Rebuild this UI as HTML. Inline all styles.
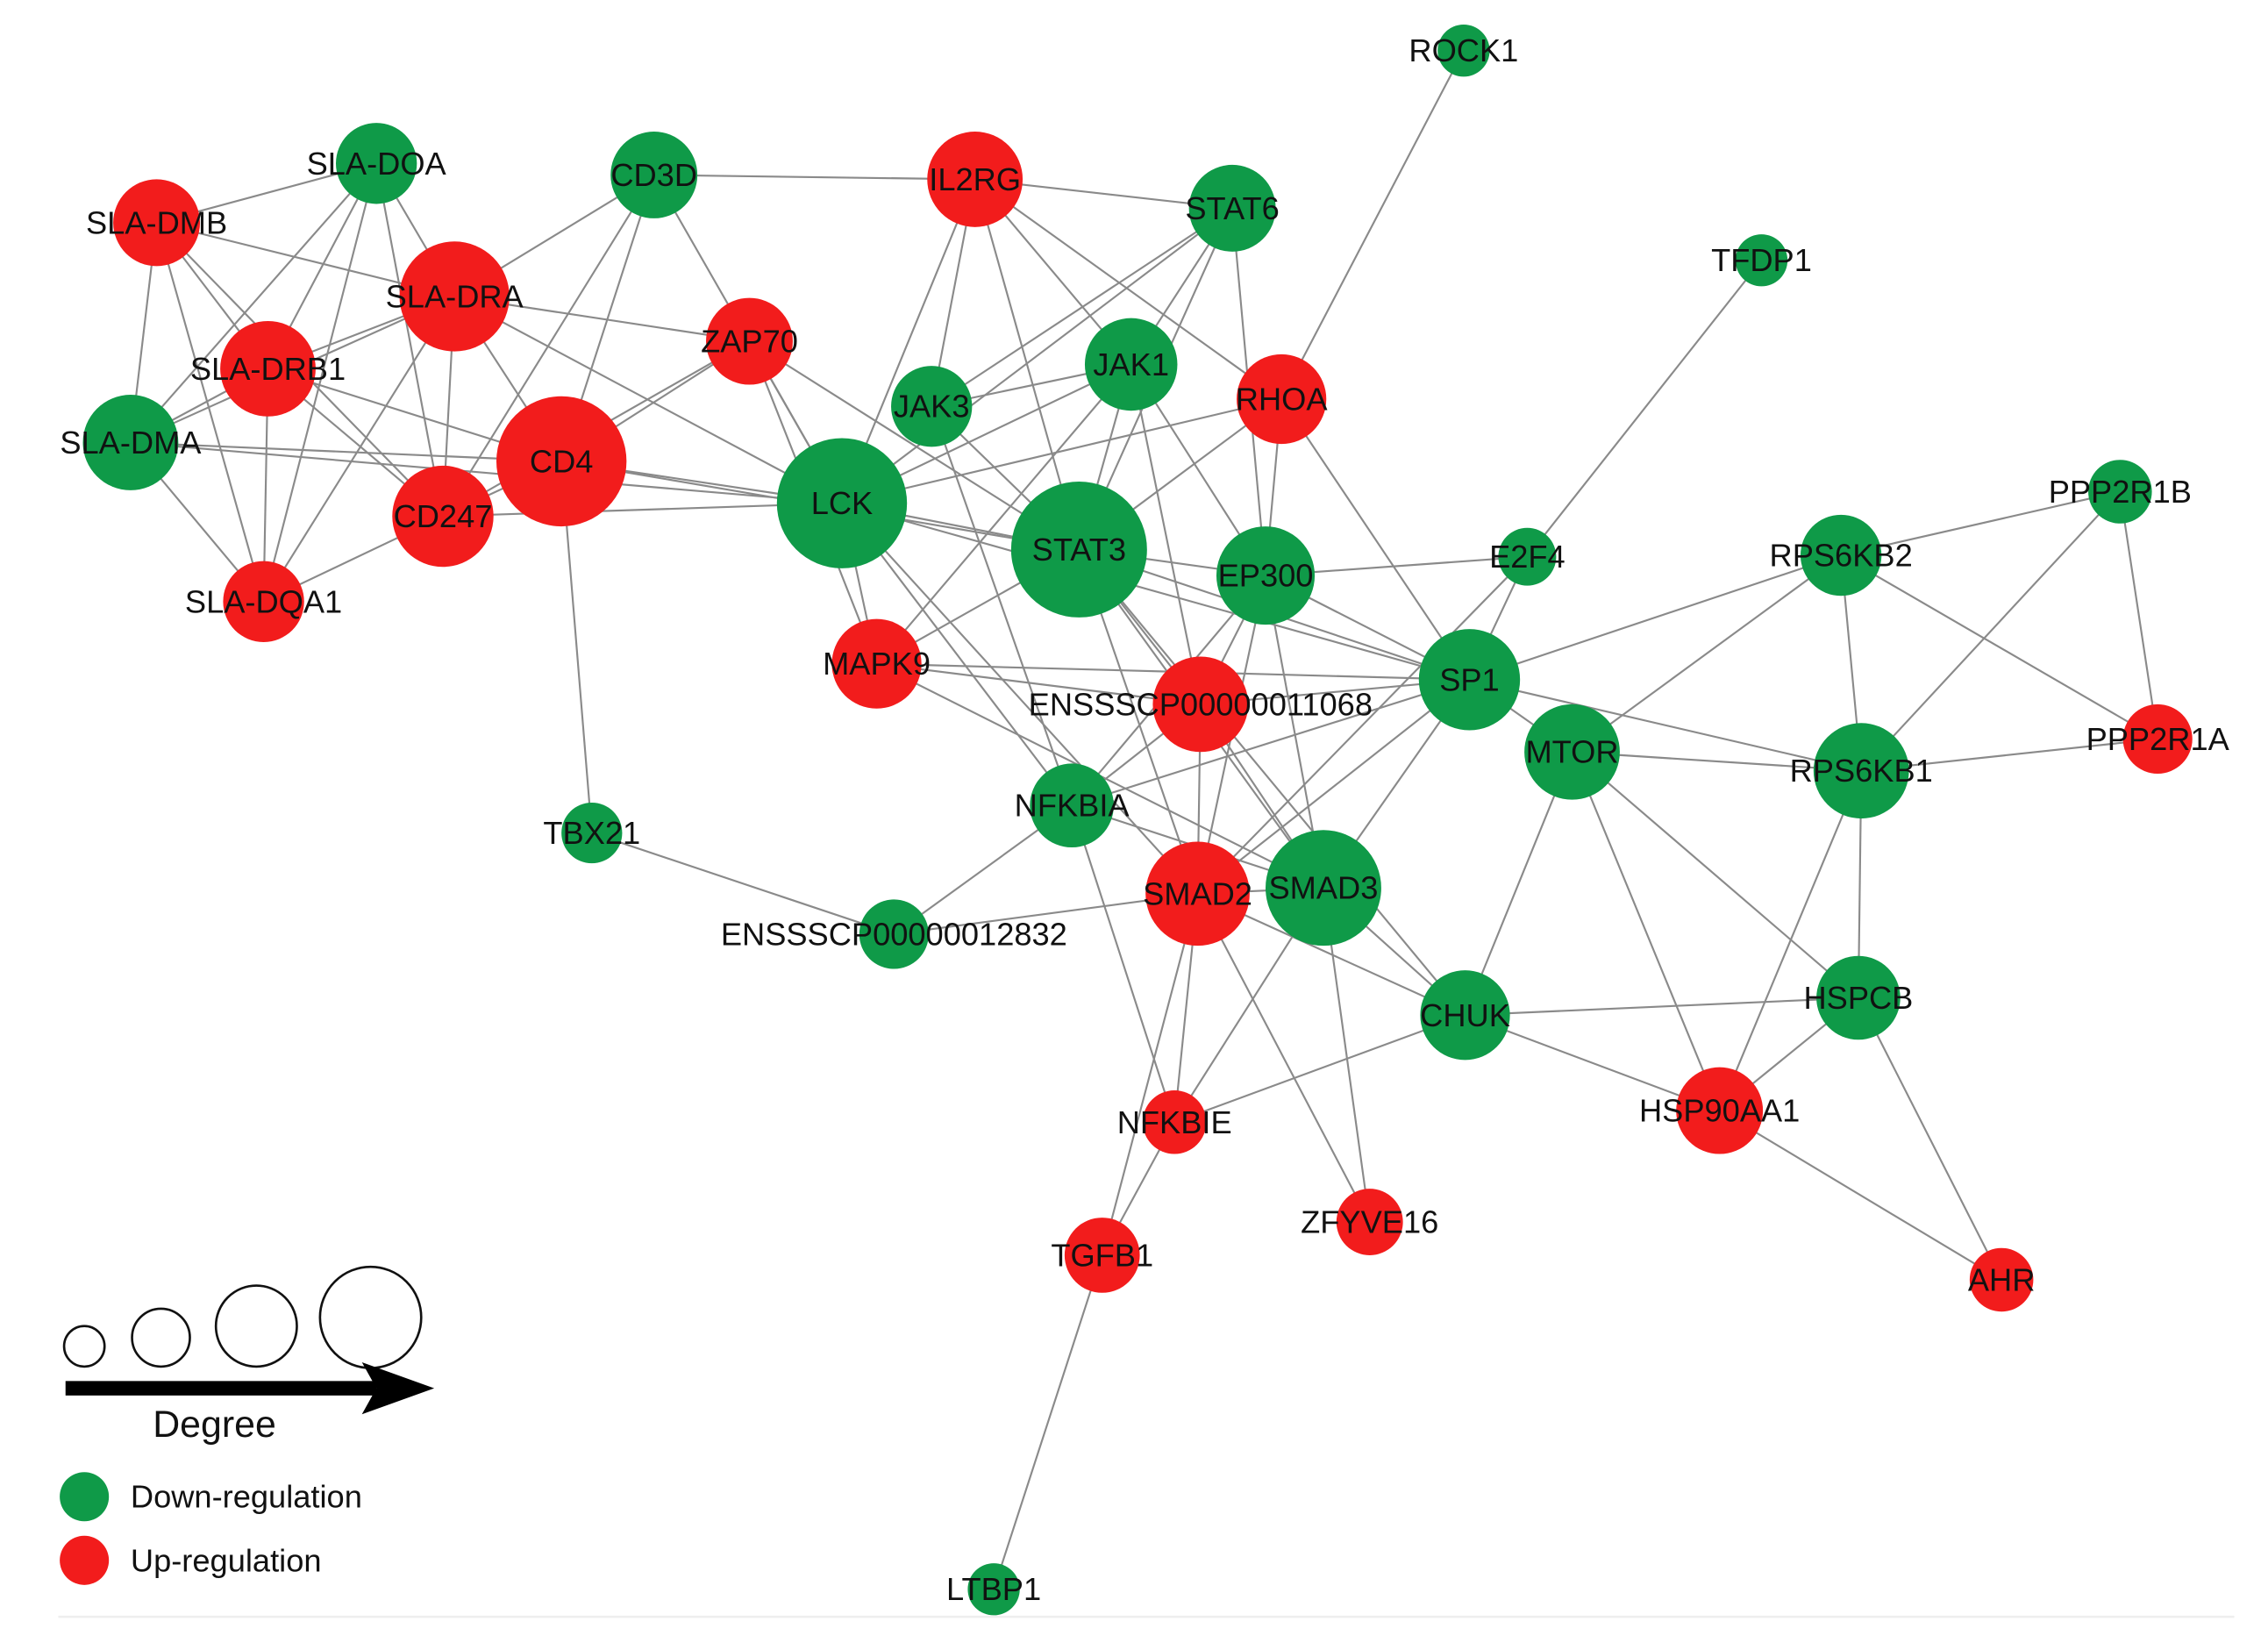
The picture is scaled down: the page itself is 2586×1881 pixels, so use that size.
<!DOCTYPE html>
<html><head><meta charset="utf-8"><style>html,body{margin:0;padding:0;background:#fff}svg{display:block}</style></head>
<body>
<svg width="2586" height="1881" viewBox="0 0 1568 1141" xmlns="http://www.w3.org/2000/svg" font-family="Liberation Sans, Arial, sans-serif">
<rect width="1568" height="1141" fill="#fff"/>
<g stroke="#8a8a8a" stroke-width="1.3" fill="none">
<line x1="108" y1="154" x2="260" y2="113"/>
<line x1="108" y1="154" x2="314" y2="205"/>
<line x1="108" y1="154" x2="185" y2="255"/>
<line x1="108" y1="154" x2="90" y2="306"/>
<line x1="108" y1="154" x2="182" y2="416"/>
<line x1="108" y1="154" x2="306" y2="357"/>
<line x1="260" y1="113" x2="314" y2="205"/>
<line x1="260" y1="113" x2="185" y2="255"/>
<line x1="260" y1="113" x2="90" y2="306"/>
<line x1="260" y1="113" x2="306" y2="357"/>
<line x1="260" y1="113" x2="182" y2="416"/>
<line x1="314" y1="205" x2="185" y2="255"/>
<line x1="314" y1="205" x2="90" y2="306"/>
<line x1="314" y1="205" x2="306" y2="357"/>
<line x1="314" y1="205" x2="388" y2="319"/>
<line x1="314" y1="205" x2="182" y2="416"/>
<line x1="314" y1="205" x2="518" y2="236"/>
<line x1="314" y1="205" x2="582" y2="348"/>
<line x1="314" y1="205" x2="452" y2="121"/>
<line x1="185" y1="255" x2="90" y2="306"/>
<line x1="185" y1="255" x2="182" y2="416"/>
<line x1="185" y1="255" x2="306" y2="357"/>
<line x1="185" y1="255" x2="388" y2="319"/>
<line x1="90" y1="306" x2="182" y2="416"/>
<line x1="90" y1="306" x2="388" y2="319"/>
<line x1="90" y1="306" x2="582" y2="348"/>
<line x1="182" y1="416" x2="306" y2="357"/>
<line x1="306" y1="357" x2="388" y2="319"/>
<line x1="306" y1="357" x2="452" y2="121"/>
<line x1="306" y1="357" x2="518" y2="236"/>
<line x1="306" y1="357" x2="582" y2="348"/>
<line x1="388" y1="319" x2="452" y2="121"/>
<line x1="388" y1="319" x2="518" y2="236"/>
<line x1="388" y1="319" x2="582" y2="348"/>
<line x1="388" y1="319" x2="409" y2="576"/>
<line x1="388" y1="319" x2="746" y2="380"/>
<line x1="452" y1="121" x2="674" y2="124"/>
<line x1="452" y1="121" x2="582" y2="348"/>
<line x1="674" y1="124" x2="852" y2="144"/>
<line x1="674" y1="124" x2="644" y2="281"/>
<line x1="674" y1="124" x2="782" y2="252"/>
<line x1="674" y1="124" x2="582" y2="348"/>
<line x1="674" y1="124" x2="746" y2="380"/>
<line x1="674" y1="124" x2="886" y2="276"/>
<line x1="852" y1="144" x2="782" y2="252"/>
<line x1="852" y1="144" x2="644" y2="281"/>
<line x1="852" y1="144" x2="746" y2="380"/>
<line x1="852" y1="144" x2="875" y2="398"/>
<line x1="852" y1="144" x2="582" y2="348"/>
<line x1="518" y1="236" x2="582" y2="348"/>
<line x1="518" y1="236" x2="746" y2="380"/>
<line x1="518" y1="236" x2="606" y2="459"/>
<line x1="782" y1="252" x2="644" y2="281"/>
<line x1="782" y1="252" x2="746" y2="380"/>
<line x1="782" y1="252" x2="582" y2="348"/>
<line x1="782" y1="252" x2="830" y2="487"/>
<line x1="782" y1="252" x2="875" y2="398"/>
<line x1="782" y1="252" x2="606" y2="459"/>
<line x1="644" y1="281" x2="746" y2="380"/>
<line x1="644" y1="281" x2="741" y2="557"/>
<line x1="886" y1="276" x2="582" y2="348"/>
<line x1="886" y1="276" x2="1012" y2="35"/>
<line x1="886" y1="276" x2="1016" y2="470"/>
<line x1="886" y1="276" x2="875" y2="398"/>
<line x1="886" y1="276" x2="746" y2="380"/>
<line x1="582" y1="348" x2="746" y2="380"/>
<line x1="582" y1="348" x2="606" y2="459"/>
<line x1="582" y1="348" x2="741" y2="557"/>
<line x1="582" y1="348" x2="1016" y2="470"/>
<line x1="582" y1="348" x2="828" y2="618"/>
<line x1="746" y1="380" x2="875" y2="398"/>
<line x1="746" y1="380" x2="1016" y2="470"/>
<line x1="746" y1="380" x2="915" y2="614"/>
<line x1="746" y1="380" x2="828" y2="618"/>
<line x1="746" y1="380" x2="830" y2="487"/>
<line x1="746" y1="380" x2="606" y2="459"/>
<line x1="746" y1="380" x2="1013" y2="702"/>
<line x1="875" y1="398" x2="1056" y2="385"/>
<line x1="875" y1="398" x2="1016" y2="470"/>
<line x1="875" y1="398" x2="828" y2="618"/>
<line x1="875" y1="398" x2="915" y2="614"/>
<line x1="875" y1="398" x2="830" y2="487"/>
<line x1="875" y1="398" x2="741" y2="557"/>
<line x1="1056" y1="385" x2="1218" y2="180"/>
<line x1="1056" y1="385" x2="828" y2="618"/>
<line x1="1056" y1="385" x2="1016" y2="470"/>
<line x1="1016" y1="470" x2="1087" y2="520"/>
<line x1="1016" y1="470" x2="1273" y2="384"/>
<line x1="1016" y1="470" x2="1287" y2="533"/>
<line x1="1016" y1="470" x2="915" y2="614"/>
<line x1="1016" y1="470" x2="828" y2="618"/>
<line x1="1016" y1="470" x2="606" y2="459"/>
<line x1="1016" y1="470" x2="830" y2="487"/>
<line x1="1016" y1="470" x2="741" y2="557"/>
<line x1="1087" y1="520" x2="1273" y2="384"/>
<line x1="1087" y1="520" x2="1287" y2="533"/>
<line x1="1087" y1="520" x2="1013" y2="702"/>
<line x1="1087" y1="520" x2="1189" y2="768"/>
<line x1="1087" y1="520" x2="1285" y2="690"/>
<line x1="1273" y1="384" x2="1466" y2="340"/>
<line x1="1273" y1="384" x2="1287" y2="533"/>
<line x1="1273" y1="384" x2="1492" y2="511"/>
<line x1="1466" y1="340" x2="1492" y2="511"/>
<line x1="1466" y1="340" x2="1287" y2="533"/>
<line x1="1287" y1="533" x2="1492" y2="511"/>
<line x1="1287" y1="533" x2="1285" y2="690"/>
<line x1="1287" y1="533" x2="1189" y2="768"/>
<line x1="1285" y1="690" x2="1013" y2="702"/>
<line x1="1285" y1="690" x2="1189" y2="768"/>
<line x1="1285" y1="690" x2="1384" y2="885"/>
<line x1="1189" y1="768" x2="1013" y2="702"/>
<line x1="1189" y1="768" x2="1384" y2="885"/>
<line x1="1013" y1="702" x2="812" y2="776"/>
<line x1="1013" y1="702" x2="828" y2="618"/>
<line x1="1013" y1="702" x2="915" y2="614"/>
<line x1="828" y1="618" x2="915" y2="614"/>
<line x1="828" y1="618" x2="618" y2="646"/>
<line x1="828" y1="618" x2="812" y2="776"/>
<line x1="828" y1="618" x2="762" y2="868"/>
<line x1="828" y1="618" x2="947" y2="845"/>
<line x1="828" y1="618" x2="830" y2="487"/>
<line x1="915" y1="614" x2="947" y2="845"/>
<line x1="915" y1="614" x2="812" y2="776"/>
<line x1="915" y1="614" x2="830" y2="487"/>
<line x1="741" y1="557" x2="618" y2="646"/>
<line x1="741" y1="557" x2="812" y2="776"/>
<line x1="741" y1="557" x2="915" y2="614"/>
<line x1="741" y1="557" x2="830" y2="487"/>
<line x1="606" y1="459" x2="830" y2="487"/>
<line x1="606" y1="459" x2="915" y2="614"/>
<line x1="618" y1="646" x2="409" y2="576"/>
<line x1="812" y1="776" x2="762" y2="868"/>
<line x1="762" y1="868" x2="687" y2="1099"/>
</g>
<g fill="#0f9a48">
<circle cx="260" cy="113" r="28"/><circle cx="452" cy="121" r="30"/><circle cx="852" cy="144" r="30"/>
<circle cx="1012" cy="35" r="18"/><circle cx="1218" cy="180" r="18"/><circle cx="782" cy="252" r="32"/>
<circle cx="644" cy="281" r="28"/><circle cx="90" cy="306" r="33"/><circle cx="582" cy="348" r="45"/>
<circle cx="746" cy="380" r="47"/><circle cx="875" cy="398" r="34"/><circle cx="1056" cy="385" r="20"/>
<circle cx="1466" cy="340" r="22"/><circle cx="1273" cy="384" r="28"/><circle cx="1016" cy="470" r="35"/>
<circle cx="1087" cy="520" r="33"/><circle cx="1287" cy="533" r="33"/><circle cx="409" cy="576" r="21"/>
<circle cx="741" cy="557" r="29"/><circle cx="915" cy="614" r="40"/><circle cx="618" cy="646" r="24"/>
<circle cx="1013" cy="702" r="31"/><circle cx="1285" cy="690" r="29"/><circle cx="687" cy="1099" r="18"/>
</g>
<g fill="#f21c1c">
<circle cx="108" cy="154" r="30"/><circle cx="674" cy="124" r="33"/><circle cx="314" cy="205" r="38"/>
<circle cx="518" cy="236" r="30"/><circle cx="185" cy="255" r="33"/><circle cx="886" cy="276" r="31"/>
<circle cx="388" cy="319" r="45"/><circle cx="306" cy="357" r="35"/><circle cx="182" cy="416" r="28"/>
<circle cx="606" cy="459" r="31"/><circle cx="830" cy="487" r="33"/><circle cx="1492" cy="511" r="24"/>
<circle cx="828" cy="618" r="36"/><circle cx="1189" cy="768" r="30"/><circle cx="812" cy="776" r="22"/>
<circle cx="947" cy="845" r="23"/><circle cx="762" cy="868" r="26"/><circle cx="1384" cy="885" r="22"/>
</g>
<g font-size="22" fill="#111" text-anchor="middle" dominant-baseline="central">
<text x="260" y="113">SLA-DOA</text><text x="108" y="154">SLA-DMB</text><text x="452" y="121">CD3D</text>
<text x="674" y="124">IL2RG</text><text x="852" y="144">STAT6</text><text x="1012" y="35">ROCK1</text>
<text x="1218" y="180">TFDP1</text><text x="314" y="205">SLA-DRA</text><text x="518" y="236">ZAP70</text>
<text x="185" y="255">SLA-DRB1</text><text x="782" y="252">JAK1</text><text x="644" y="281">JAK3</text>
<text x="886" y="276">RHOA</text><text x="90" y="306">SLA-DMA</text><text x="388" y="319">CD4</text>
<text x="306" y="357">CD247</text><text x="582" y="348">LCK</text><text x="746" y="380">STAT3</text>
<text x="875" y="398">EP300</text><text x="1056" y="385">E2F4</text><text x="1466" y="340">PPP2R1B</text>
<text x="1273" y="384">RPS6KB2</text><text x="182" y="416">SLA-DQA1</text><text x="606" y="459">MAPK9</text>
<text x="830" y="487">ENSSSCP00000011068</text><text x="1016" y="470">SP1</text><text x="1087" y="520">MTOR</text>
<text x="1287" y="533">RPS6KB1</text><text x="1492" y="511">PPP2R1A</text><text x="409" y="576">TBX21</text>
<text x="741" y="557">NFKBIA</text><text x="828" y="618">SMAD2</text><text x="915" y="614">SMAD3</text>
<text x="618" y="646">ENSSSCP00000012832</text><text x="1013" y="702">CHUK</text><text x="1285" y="690">HSPCB</text>
<text x="1189" y="768">HSP90AA1</text><text x="812" y="776">NFKBIE</text><text x="947" y="845">ZFYVE16</text>
<text x="762" y="868">TGFB1</text><text x="1384" y="885">AHR</text><text x="687" y="1099">LTBP1</text>
</g>
<g fill="none" stroke="#111" stroke-width="1.6">
<circle cx="58" cy="931" r="14"/><circle cx="111" cy="925" r="20"/>
<circle cx="177" cy="917" r="28"/><circle cx="256" cy="911" r="35"/>
</g>
<rect x="45" y="955" width="215" height="10" fill="#000"/>
<polygon points="250,942 300,960 250,978 260,960" fill="#000"/>
<text x="148" y="985" font-size="26" text-anchor="middle" dominant-baseline="central" fill="#111">Degree</text>
<circle cx="58" cy="1035" r="17" fill="#0f9a48"/>
<circle cx="58" cy="1079" r="17" fill="#f21c1c"/>
<text x="90" y="1035" font-size="22" dominant-baseline="central" fill="#111">Down-regulation</text>
<text x="90" y="1079" font-size="22" dominant-baseline="central" fill="#111">Up-regulation</text>
<line x1="40" y1="1118" x2="1545" y2="1118" stroke="#eee" stroke-width="1.5"/>
</svg>
</body></html>
